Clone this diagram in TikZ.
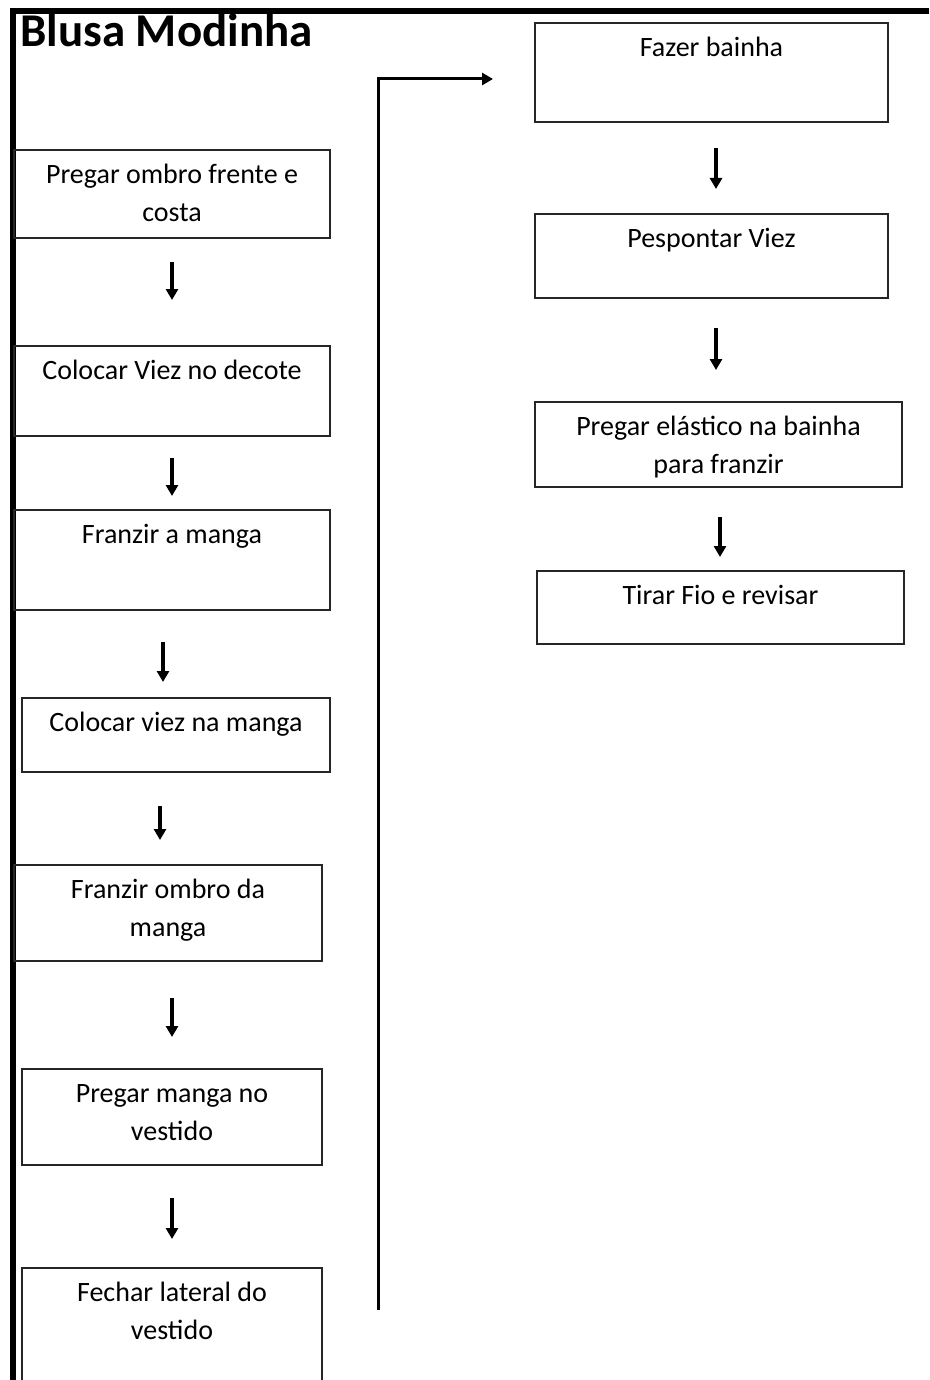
\documentclass[tikz,border=0pt]{standalone}
\usepackage{fontspec}
\setmainfont{Carlito}
\usetikzlibrary{arrows.meta}
\begin{document}
\begin{tikzpicture}[x=1pt,y=-1pt,
  stepbox/.style={draw=black!85,line width=1.6pt,inner sep=0pt,outer sep=0pt,anchor=north west},
  lbl/.style={anchor=north,inner sep=0pt,align=center,font=\fontsize{28}{38}\selectfont},
  arr/.style={line width=3.4pt,-{Triangle[width=12pt,length=11pt]}},
  bar/.style={fill=black,draw=none}]
\useasboundingbox (0,0) rectangle (929,1380);
\fill[white] (0,0) rectangle (929,1380);
% page frame (left and top rules)
\fill[bar] (10,8) rectangle (929,14);
\fill[bar] (10,8) rectangle (16,1380);
% title
\node[anchor=base west,inner sep=0pt,font=\fontsize{47}{52}\selectfont\bfseries] (title) at (20,47) {Blusa Modinha};
% left column
\node[stepbox,minimum width=316pt,minimum height=88pt] (b1) at (14,150) {};
\node[lbl] (t1) at ([yshift=-7pt]b1.north) {\strut Pregar ombro frente e\\\strut costa};
\node[stepbox,minimum width=316pt,minimum height=90pt] (b2) at (14,346) {};
\node[lbl] (t2) at ([yshift=-7pt]b2.north) {\strut Colocar Viez no decote};
\node[stepbox,minimum width=316pt,minimum height=100pt] (b3) at (14,510) {};
\node[lbl] (t3) at ([yshift=-7pt]b3.north) {\strut Franzir a manga};
\node[stepbox,minimum width=308pt,minimum height=74pt] (b4) at (22,698) {};
\node[lbl] (t4) at ([yshift=-7pt]b4.north) {\strut Colocar viez na manga};
\node[stepbox,minimum width=308pt,minimum height=96pt] (b5) at (14,865) {};
\node[lbl] (t5) at ([yshift=-7pt]b5.north) {\strut Franzir ombro da\\\strut manga};
\node[stepbox,minimum width=300pt,minimum height=96pt] (b6) at (22,1069) {};
\node[lbl] (t6) at ([yshift=-7pt]b6.north) {\strut Pregar manga no\\\strut vestido};
\node[stepbox,minimum width=300pt,minimum height=130pt] (b7) at (22,1268) {};
\node[lbl] (t7) at ([yshift=-7pt]b7.north) {\strut Fechar lateral do\\\strut vestido};
% right column
\node[stepbox,minimum width=353pt,minimum height=99pt] (b8) at (535,23) {};
\node[lbl] (t8) at ([yshift=-7pt]b8.north) {\strut Fazer bainha};
\node[stepbox,minimum width=353pt,minimum height=84pt] (b9) at (535,214) {};
\node[lbl] (t9) at ([yshift=-7pt]b9.north) {\strut Pespontar Viez};
\node[stepbox,minimum width=367pt,minimum height=85pt] (b10) at (535,402) {};
\node[lbl] (t10) at ([yshift=-7pt]b10.north) {\strut Pregar elástico na bainha\\\strut para franzir};
\node[stepbox,minimum width=367pt,minimum height=73pt] (b11) at (537,571) {};
\node[lbl] (t11) at ([yshift=-7pt]b11.north) {\strut Tirar Fio e revisar};
% short step arrows
\coordinate (a1s) at (172,262);  \coordinate (a1e) at (172,300);
\coordinate (a2s) at (172,458);  \coordinate (a2e) at (172,496);
\coordinate (a3s) at (163,642);  \coordinate (a3e) at (163,682);
\coordinate (a4s) at (160,806);  \coordinate (a4e) at (160,840);
\coordinate (a5s) at (172,998);  \coordinate (a5e) at (172,1037);
\coordinate (a6s) at (172,1198); \coordinate (a6e) at (172,1239);
\coordinate (r1s) at (716,148);  \coordinate (r1e) at (716,189);
\coordinate (r2s) at (716,328);  \coordinate (r2e) at (716,370);
\coordinate (r3s) at (720,517);  \coordinate (r3e) at (720,557);
\foreach \a in {a1,a2,a3,a4,a5,a6,r1,r2,r3}
  \draw[arr] (\a s) -- (\a e);
% column link
\coordinate (ls) at (378,1310);
\coordinate (lc) at (378,79);
\coordinate (le) at (493,79);
\draw[arr,line width=3pt] (ls) -- (lc) -- (le);
\end{tikzpicture}
\end{document}
